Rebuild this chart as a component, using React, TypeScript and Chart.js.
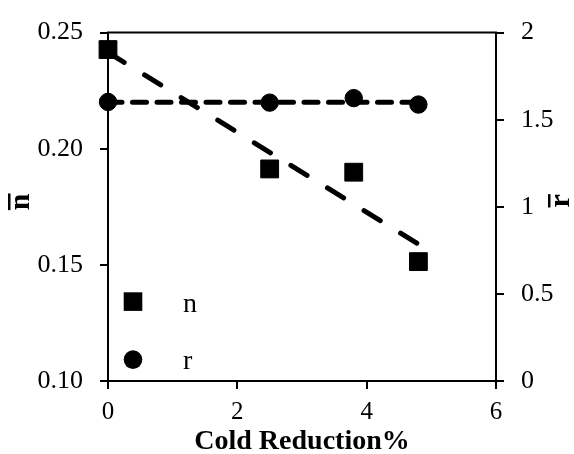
import React, { useEffect, useRef } from 'react';
import { Chart, registerables } from 'chart.js';

Chart.register(...registerables);

// ---- data ----
const coldReduction = [0, 2.5, 3.8, 4.8];
const nValues = [0.2427, 0.1913, 0.1899, 0.1514];
const rValues = [1.602, 1.598, 1.624, 1.587];
const nTrendX = [0, 4.8];
const nTrendY = [0.2415, 0.1589];
const rTrendX = [0, 4.8];
const rTrendY = [1.6, 1.6];
const xTicks = [0, 2, 4, 6];
const nTicks = [0.1, 0.15, 0.2, 0.25];
const rTicks = [0, 0.5, 1, 1.5, 2];
const legendLabels = ['n', 'r'];
const xTitle = 'Cold Reduction%';
const nTitle = 'n';
const rTitle = 'r';

const SERIF = '"Liberation Serif", "Times New Roman", serif';

function drawBarredTitle(ctx: any, text: string, x: number, y: number) {
  // rotated -90°, with an overline (bar) above the letter
  ctx.save();
  ctx.translate(x, y);
  ctx.rotate(-Math.PI / 2);
  ctx.font = `bold 30px ${SERIF}`;
  ctx.textAlign = 'center';
  ctx.textBaseline = 'alphabetic';
  const w = ctx.measureText(text).width;
  ctx.fillText(text, 0, 7);
  ctx.fillRect(-w / 2, -14, w, 2.5);
  ctx.restore();
}

const decorPlugin = {
  id: 'decor',
  afterDraw(chart: any) {
    const { ctx, chartArea: a } = chart;
    ctx.save();
    // top border
    ctx.strokeStyle = '#000';
    ctx.lineWidth = 2;
    ctx.beginPath();
    ctx.moveTo(a.left - 1, a.top);
    ctx.lineTo(a.right + 1, a.top);
    ctx.stroke();

    ctx.fillStyle = '#000';
    const cy = (a.top + a.bottom) / 2;
    drawBarredTitle(ctx, nTitle, a.left - 86, cy - 5);
    drawBarredTitle(ctx, rTitle, a.right + 66, cy - 6);

    // legend
    const lx = a.left + 25;
    const ly1 = a.top + 269;
    const ly2 = a.top + 327;
    const side = 18.6;
    ctx.fillRect(lx - side / 2, ly1 - side / 2, side, side);
    ctx.beginPath();
    ctx.arc(lx, ly2, 9.3, 0, Math.PI * 2);
    ctx.fill();
    ctx.font = `28px ${SERIF}`;
    ctx.textAlign = 'left';
    ctx.textBaseline = 'alphabetic';
    ctx.fillText(legendLabels[0], a.left + 75, ly1 + 10);
    ctx.fillText(legendLabels[1], a.left + 75, ly2 + 9);
    ctx.restore();
  },
};

export default function App() {
  const ref = useRef<HTMLCanvasElement | null>(null);
  useEffect(() => {
    document.body.style.margin = '0';
    const canvas = ref.current;
    if (!canvas) return;
    const axisGrid = {
      drawOnChartArea: false,
      drawTicks: true,
      tickLength: 8,
      color: '#000',
      lineWidth: 2,
    };
    const border = { display: true, color: '#000', width: 2 };
    const tickFont = { family: SERIF, size: 26 };
    const chart = new Chart(canvas, {
      type: 'scatter',
      data: {
        datasets: [
          {
            label: 'n',
            data: coldReduction.map((x, i) => ({ x, y: nValues[i] })),
            yAxisID: 'y',
            pointStyle: 'rect',
            pointRadius: 12.6,
            pointBorderWidth: 1,
            backgroundColor: '#000',
            borderColor: '#000',
            showLine: false,
            clip: false,
          },
          {
            label: 'r',
            data: coldReduction.map((x, i) => ({ x, y: rValues[i] })),
            yAxisID: 'y1',
            pointStyle: 'circle',
            pointRadius: 8.7,
            pointBorderWidth: 1,
            backgroundColor: '#000',
            borderColor: '#000',
            showLine: false,
            clip: false,
          },
          {
            label: 'n trend',
            data: nTrendX.map((x, i) => ({ x, y: nTrendY[i] })),
            yAxisID: 'y',
            showLine: true,
            pointRadius: 0,
            borderColor: '#000',
            borderWidth: 5,
            borderDash: [19, 24],
            borderCapStyle: 'round',
            clip: false,
          },
          {
            label: 'r trend',
            data: rTrendX.map((x, i) => ({ x, y: rTrendY[i] })),
            yAxisID: 'y1',
            showLine: true,
            pointRadius: 0,
            borderColor: '#000',
            borderWidth: 5,
            borderDash: [14, 10.5],
            borderCapStyle: 'round',
            clip: false,
          },
        ],
      },
      options: {
        responsive: false,
        animation: false,
        layout: { padding: { top: 26, left: 0, right: 0, bottom: 0 } },
        plugins: { legend: { display: false }, tooltip: { enabled: false } },
        scales: {
          x: {
            type: 'linear',
            min: 0,
            max: 6,
            grid: axisGrid,
            border,
            afterBuildTicks: (s: any) => {
              s.ticks = xTicks.map((v) => ({ value: v }));
            },
            afterFit: (s: any) => {
              s.height = 73;
            },
            ticks: { font: { family: SERIF, size: 25 }, color: '#000', padding: 8, maxRotation: 0 },
            title: {
              display: true,
              text: xTitle,
              color: '#000',
              font: { family: SERIF, size: 28, weight: 'bold', lineHeight: 0.86 },
              padding: 0,
            },
          },
          y: {
            type: 'linear',
            position: 'left',
            min: 0.1,
            max: 0.25,
            grid: axisGrid,
            border,
            afterBuildTicks: (s: any) => {
              s.ticks = nTicks.map((v) => ({ value: v }));
            },
            afterFit: (s: any) => {
              s.width = 108;
            },
            ticks: {
              font: tickFont,
              color: '#000',
              padding: 17,
              callback: (v: any) => Number(v).toFixed(2),
            },
          },
          y1: {
            type: 'linear',
            position: 'right',
            min: 0,
            max: 2,
            grid: axisGrid,
            border,
            afterBuildTicks: (s: any) => {
              s.ticks = rTicks.map((v) => ({ value: v }));
            },
            afterFit: (s: any) => {
              s.width = 78;
            },
            ticks: {
              font: tickFont,
              color: '#000',
              padding: 17,
              callback: (v: any) => String(v),
            },
          },
        },
      },
      plugins: [decorPlugin],
    } as any);
    return () => chart.destroy();
  }, []);
  return (
    <div style={{ position: 'absolute', left: 0, top: 0, width: 574, height: 454 }}>
      <canvas ref={ref} width={574} height={454} style={{ display: 'block' }} />
    </div>
  );
}
